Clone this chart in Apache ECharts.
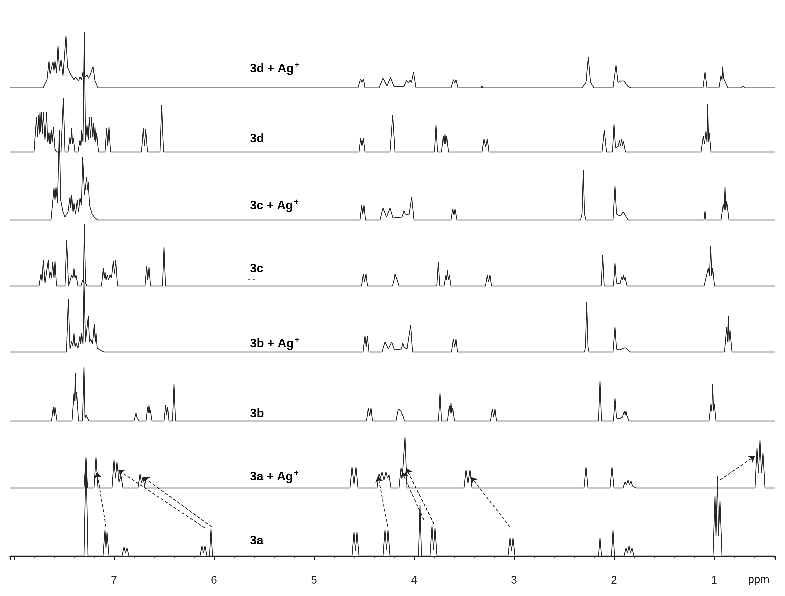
<!DOCTYPE html>
<html>
<head>
<meta charset="utf-8">
<title>1H NMR stack</title>
<script src="https://cdn.jsdelivr.net/npm/echarts@6/dist/echarts.min.js"></script>
<style>
  html, body { margin: 0; padding: 0; background: #fff; }
  #nmrChart { width: 785px; height: 596px; }
</style>
</head>
<body>
<div id="nmrChart"></div>
<script>
// spectra, top to bottom: [ppm, intensity] vertices
const spec3dAg = [
  [7.71,0],[7.67,12],[7.65,39],[7.64,20],[7.61,38],[7.60,25],[7.59,39],[7.575,22],[7.56,61],[7.545,25],[7.53,41],[7.51,18],[7.48,76],[7.465,30],[7.45,28],[7.435,20],[7.42,21],[7.40,12],[7.385,16],[7.37,14],[7.355,10],[7.34,16],[7.325,12],[7.31,23],[7.295,15],[7.27,19],[7.255,14],[7.24,18],[7.225,16],[7.21,31],[7.19,10],[7.16,0],
  [4.56,0],[4.535,13],[4.52,8],[4.505,13],[4.49,0],
  [4.35,0],[4.31,14],[4.27,3],[4.235,15],[4.20,2],[4.10,2],[4.075,11],[4.055,7],[4.04,11],[4.025,8],[4.005,23],[3.98,0],
  [3.63,0],[3.605,12],[3.593,7],[3.58,12],[3.56,0],
  [3.33,0],[3.32,3],[3.31,0],
  [2.32,0],[2.28,8],[2.257,45],[2.235,8],[2.20,0],
  [2.01,0],[1.98,33],[1.96,8],[1.935,10],[1.92,8],[1.90,10],[1.86,2],[1.83,0],
  [1.70,0],[1.69,2],[1.68,0],
  [1.11,0],[1.09,23],[1.07,0],
  [0.95,0],[0.93,18],[0.92,12],[0.913,31],[0.905,14],[0.89,16],[0.86,0],
  [0.73,0],[0.71,3],[0.69,0]
]
const spec3d = [
  [7.80,0],[7.775,35],[7.765,15],[7.757,37],[7.748,18],[7.74,40],[7.732,20],[7.723,40],[7.715,18],[7.707,40],[7.69,12],[7.673,40],[7.665,10],[7.657,19],[7.648,8],[7.64,20],[7.632,8],[7.623,22],[7.615,10],[7.607,25],[7.59,3],[7.575,0],
  [7.53,0],[7.507,54],[7.49,0],
  [7.46,0],[7.44,15],[7.432,8],[7.423,24],[7.415,8],[7.407,14],[7.39,0],
  [7.36,0],[7.34,12],[7.33,6],[7.323,22],[7.31,10],[7.297,120],[7.285,10],[7.27,27],[7.258,12],[7.247,35],[7.235,14],[7.223,35],[7.215,15],[7.207,29],[7.198,12],[7.19,25],[7.182,10],[7.173,19],[7.155,0],
  [7.09,0],[7.073,24],[7.062,6],[7.05,25],[7.035,0],
  [6.725,0],[6.707,24],[6.695,6],[6.683,23],[6.665,0],
  [6.54,0],[6.523,47],[6.505,0],
  [4.55,0],[4.533,14],[4.52,6],[4.507,14],[4.49,0],
  [4.24,0],[4.213,37],[4.19,0],
  [3.795,0],[3.78,27],[3.765,0],
  [3.725,0],[3.707,16],[3.698,8],[3.69,18],[3.682,8],[3.673,16],[3.655,0],
  [3.32,0],[3.30,13],[3.283,5],[3.267,13],[3.25,0],
  [2.12,0],[2.097,22],[2.075,0],
  [2.015,0],[2.0,28],[1.985,4],[1.955,6],[1.947,12],[1.935,6],[1.923,13],[1.915,6],[1.907,11],[1.885,0],
  [1.13,0],[1.107,16],[1.095,8],[1.08,21],[1.07,10],[1.063,48],[1.055,10],[1.047,19],[1.03,0],
  [0.74,0],[0.723,2],[0.70,0]
]
const spec3cAg = [
  [7.63,0],[7.60,32],[7.59,20],[7.58,33],[7.565,17],[7.547,90],[7.533,20],[7.51,8],[7.49,3],[7.46,8],[7.44,23],[7.432,12],[7.423,25],[7.41,8],[7.40,17],[7.385,6],[7.367,20],[7.355,8],[7.34,22],[7.325,15],[7.313,63],[7.295,25],[7.273,43],[7.265,30],[7.257,38],[7.245,15],[7.233,13],[7.22,6],[7.207,8],[7.19,2],[7.16,0],
  [7.12,0],[7.10,1.5],[7.08,0],
  [4.54,0],[4.523,15],[4.512,6],[4.50,15],[4.485,0],
  [4.34,0],[4.31,12],[4.275,3],[4.24,12],[4.21,2],[4.12,3],[4.10,9],[4.087,6],[4.073,8],[4.05,5],[4.023,23],[4.0,0],
  [3.63,0],[3.613,11],[3.60,5],[3.59,11],[3.57,0],
  [2.335,0],[2.32,6],[2.307,50],[2.295,6],[2.28,0],
  [2.01,0],[1.99,34],[1.975,6],[1.94,4],[1.907,8],[1.898,6],[1.89,9],[1.86,0],
  [1.10,0],[1.09,9],[1.08,0],
  [0.93,0],[0.907,16],[0.898,10],[0.89,33],[0.882,10],[0.873,19],[0.85,0]
]
const spec3c = [
  [7.75,0],[7.73,12],[7.72,5],[7.707,26],[7.69,3],[7.67,4],[7.657,26],[7.645,8],[7.633,14],[7.625,8],[7.613,24],[7.60,8],[7.59,25],[7.575,0],
  [7.49,0],[7.473,46],[7.455,0],
  [7.44,0],[7.423,11],[7.41,8],[7.40,18],[7.39,8],[7.38,11],[7.36,0],
  [7.33,0],[7.313,6],[7.305,3],[7.297,62],[7.285,3],[7.27,0],
  [7.125,0],[7.107,18],[7.098,8],[7.09,14],[7.08,6],[7.067,11],[7.055,6],[7.04,11],[7.025,8],[7.007,25],[6.995,12],[6.983,26],[6.965,0],
  [6.69,0],[6.673,20],[6.662,6],[6.65,19],[6.635,0],
  [6.515,0],[6.50,39],[6.485,0],
  [4.525,0],[4.507,12],[4.495,4],[4.48,12],[4.465,0],
  [4.215,0],[4.20,6],[4.19,12],[4.183,10],[4.177,13],[4.165,5],[4.15,0],[4.14,2],[4.13,0],
  [3.772,0],[3.757,24],[3.742,0],
  [3.70,0],[3.68,11],[3.673,6],[3.667,16],[3.657,6],[3.647,11],[3.63,0],
  [3.285,0],[3.267,11],[3.255,4],[3.24,11],[3.225,0],
  [2.128,0],[2.113,31],[2.098,0],
  [2.005,0],[1.99,23],[1.975,3],[1.94,2],[1.923,9],[1.915,6],[1.907,11],[1.898,6],[1.89,9],[1.87,0],
  [1.10,0],[1.09,4],[1.075,2],[1.057,18],[1.045,10],[1.033,40],[1.022,10],[1.013,18],[0.995,0]
]
const spec3bAg = [
  [7.475,0],[7.457,53],[7.44,3],[7.423,11],[7.412,6],[7.40,19],[7.39,5],[7.38,9],[7.36,4],[7.34,16],[7.332,8],[7.323,19],[7.31,8],[7.30,70],[7.285,10],[7.27,12],[7.257,36],[7.245,10],[7.233,13],[7.215,8],[7.197,28],[7.188,10],[7.18,19],[7.168,4],[7.157,6],[7.14,2],[7.123,4],[7.10,0],
  [4.51,0],[4.49,16],[4.478,5],[4.467,16],[4.45,0],
  [4.32,0],[4.29,10],[4.257,3],[4.223,10],[4.195,2],[4.125,3],[4.113,9],[4.10,5],[4.09,7],[4.07,3],[4.033,27],[4.015,0],
  [3.625,0],[3.607,13],[3.593,5],[3.58,13],[3.565,0],
  [2.295,0],[2.285,5],[2.273,50],[2.26,5],[2.25,0],
  [2.01,0],[1.99,25],[1.975,3],[1.94,2],[1.90,4],[1.89,5],[1.878,4],[1.867,5],[1.84,0],
  [1.10,0],[1.09,1],[1.08,0],
  [0.895,0],[0.873,25],[0.865,10],[0.857,36],[0.85,10],[0.84,22],[0.82,0]
]
const spec3b = [
  [7.625,0],[7.607,14],[7.598,5],[7.59,14],[7.57,0],
  [7.42,0],[7.40,28],[7.393,20],[7.387,48],[7.38,20],[7.373,29],[7.355,0],
  [7.315,0],[7.30,54],[7.29,3],[7.28,6],[7.273,4],[7.267,6],[7.25,0],
  [6.80,0],[6.78,8],[6.773,4],[6.767,6],[6.75,0],
  [6.68,0],[6.663,14],[6.657,8],[6.65,16],[6.643,8],[6.637,11],[6.62,0],
  [6.50,0],[6.483,16],[6.473,6],[6.463,14],[6.45,0],
  [6.415,0],[6.40,37],[6.385,0],
  [4.475,0],[4.457,13],[4.443,5],[4.43,13],[4.415,0],
  [4.18,0],[4.165,8],[4.157,12],[4.148,10],[4.14,12],[4.132,10],[4.123,12],[4.11,5],[4.095,0],
  [3.755,0],[3.74,28],[3.725,0],
  [3.665,0],[3.647,15],[3.638,8],[3.63,18],[3.622,8],[3.613,13],[3.595,0],
  [3.235,0],[3.217,12],[3.203,4],[3.19,12],[3.175,0],
  [2.155,0],[2.14,40],[2.125,0],
  [2.005,0],[1.99,23],[1.975,3],[1.94,2],[1.915,4],[1.897,10],[1.888,6],[1.88,10],[1.873,6],[1.867,8],[1.85,0],
  [1.05,0],[1.03,17],[1.022,10],[1.013,37],[1.005,10],[0.997,17],[0.98,0]
]
const spec3aAg = [
  [7.30,0],[7.28,30],[7.265,0],
  [7.20,0],[7.18,31],[7.16,0],
  [7.02,0],[7.00,28],[6.985,10],[6.97,26],[6.95,6],[6.93,12],[6.91,0],
  [6.76,0],[6.74,14],[6.725,5],[6.71,11],[6.69,0],
  [4.64,0],[4.62,21],[4.60,4],[4.58,21],[4.56,0],
  [4.37,0],[4.35,14],[4.335,10],[4.32,16],[4.30,8],[4.28,16],[4.265,10],[4.25,13],[4.23,0],
  [4.15,0],[4.13,20],[4.115,14],[4.09,51],[4.07,0],
  [3.50,0],[3.48,18],[3.46,5],[3.44,18],[3.42,0],
  [2.30,0],[2.28,21],[2.26,0],
  [2.04,0],[2.02,21],[2.00,0],
  [1.91,0],[1.89,6],[1.875,3],[1.86,8],[1.845,3],[1.83,7],[1.815,2],[1.80,4],[1.78,0],
  [1.15,0],[1.14,2],[1.13,0],
  [0.59,0],[0.57,40],[0.555,15],[0.54,48],[0.525,15],[0.51,35],[0.49,0]
]
const spec3a = [
  [7.30,0],[7.28,99],[7.26,0],
  [7.11,0],[7.09,26],[7.08,8],[7.07,24],[7.05,0],
  [6.92,0],[6.90,9],[6.885,3],[6.87,8],[6.85,0],
  [6.14,0],[6.12,10],[6.105,3],[6.09,10],[6.07,0],
  [6.045,0],[6.03,27],[6.015,0],
  [4.62,0],[4.60,24],[4.585,5],[4.57,24],[4.55,0],
  [4.31,0],[4.29,26],[4.275,6],[4.26,26],[4.24,0],
  [3.955,0],[3.94,51],[3.925,0],
  [3.84,0],[3.82,30],[3.805,6],[3.79,28],[3.77,0],
  [3.06,0],[3.04,18],[3.025,5],[3.01,18],[2.99,0],
  [2.155,0],[2.14,18],[2.125,0],
  [2.025,0],[2.01,26],[1.995,0],
  [1.90,0],[1.88,8],[1.865,3],[1.85,10],[1.835,3],[1.82,8],[1.80,0],
  [1.01,0],[0.99,60],[0.98,20],[0.965,80],[0.955,20],[0.94,55],[0.92,0]
]

const spectra = [spec3dAg, spec3d, spec3cAg, spec3c, spec3bAg, spec3b, spec3aAg, spec3a]
const labelNames = ['3d + Ag', '3d', '3c + Ag', '3c', '3b + Ag', '3b', '3a + Ag', '3a']
const labelSilver = [true, false, true, false, true, false, true, false]
// shift arrows 3a -> 3a + Ag+ : [fromPpm, fromY, toPpm, toY] (y above the 3a baseline)
const shiftArrows = [
  [7.08, 29, 7.17, 84],
  [6.09, 28, 6.96, 86],
  [6.02, 29, 6.71, 79],
  [4.26, 29, 4.36, 80],
  [3.90, 36, 4.12, 84],
  [3.80, 32, 4.08, 88],
  [3.04, 29, 3.43, 79],
  [0.94, 76, 0.59, 100]
]

const ppmMin = 0.39
const ppmMax = 8.04
const baselines = [86, 152, 220, 286, 352, 421, 488, 556]
const yMin = -6
const yMax = 128
const labelY = [68, 138, 205, 268, 343, 413, 476, 540]
const lineColor = '#262626'

let grids = []
let xAxes = []
let yAxes = []
let series = []
let graphics = []

baselines.forEach((base, i) => {
  const last = i === baselines.length - 1
  // one px per intensity unit, zero sits on the baseline
  grids.push({left: 10, width: 765, top: base - yMax, height: yMax - yMin})
  xAxes.push({
    gridIndex: i,
    type: 'value',
    inverse: true,
    min: ppmMin,
    max: ppmMax,
    splitNumber: 8,
    show: last,
    offset: last ? 9 : 0,
    axisLine: {show: true, lineStyle: {color: '#222', width: 1}},
    axisTick: {show: true, length: 4, lineStyle: {color: '#222'}},
    minorTick: {show: true, splitNumber: 5, length: 2, lineStyle: {color: '#444'}},
    splitLine: {show: false},
    axisLabel: {
      color: '#222',
      fontSize: 11,
      fontFamily: '"Liberation Sans", Arial, sans-serif',
      margin: 4,
      formatter: v => (v >= 1 && v <= 7) ? String(v) : ''
    }
  })
  yAxes.push({gridIndex: i, type: 'value', min: yMin, max: yMax, show: false})
  series.push({
    name: labelNames[i],
    type: 'line',
    xAxisIndex: i,
    yAxisIndex: i,
    data: [[ppmMax, 0]].concat(spectra[i], [[ppmMin, 0]]),
    symbol: 'none',
    showSymbol: false,
    smooth: false,
    clip: false,
    silent: true,
    lineStyle: {color: lineColor, width: 0.8}
  })
  graphics.push({
    type: 'text',
    x: 250,
    y: labelY[i],
    silent: true,
    style: {
      text: labelSilver[i] ? '{n|' + labelNames[i] + '}{s|+}' : '{n|' + labelNames[i] + '}',
      verticalAlign: 'middle',
      rich: {
        n: {fontSize: 12, fontWeight: 'bold', fontFamily: '"Liberation Sans", Arial, sans-serif', color: '#111', lineHeight: 14, verticalAlign: 'bottom'},
        s: {fontSize: 8, fontWeight: 'bold', fontFamily: '"Liberation Sans", Arial, sans-serif', color: '#111', lineHeight: 14, verticalAlign: 'top', padding: [0, 0, 0, 1]}
      }
    }
  })
})

// dashed arrows between 3a and 3a + Ag+
series.push({
  type: 'lines',
  coordinateSystem: 'cartesian2d',
  xAxisIndex: 7,
  yAxisIndex: 7,
  symbol: ['none', 'arrow'],
  symbolSize: 6,
  silent: true,
  lineStyle: {color: '#222', width: 0.8, type: [3, 2], opacity: 1},
  data: shiftArrows.map(a => ({coords: [[a[0], a[1]], [a[2], a[3]]]}))
})

graphics.push({
  type: 'text',
  x: 748,
  y: 580,
  silent: true,
  style: {text: 'ppm', fontSize: 11, fontFamily: '"Liberation Sans", Arial, sans-serif', fill: '#222', verticalAlign: 'middle'}
})
graphics.push({
  type: 'text',
  x: 248,
  y: 279,
  silent: true,
  style: {text: '- -', fontSize: 8, fontFamily: '"Liberation Sans", Arial, sans-serif', fill: '#555', verticalAlign: 'middle'}
})

const option = {
  backgroundColor: '#fff',
  animation: false,
  grid: grids,
  xAxis: xAxes,
  yAxis: yAxes,
  series: series,
  graphic: graphics
}

// higher pixel ratio so closely spaced spectrum vertices are not merged away
const myChart = echarts.init(document.getElementById('nmrChart'), null, {renderer: 'canvas', devicePixelRatio: 3})
myChart.setOption(option)
</script>
</body>
</html>
